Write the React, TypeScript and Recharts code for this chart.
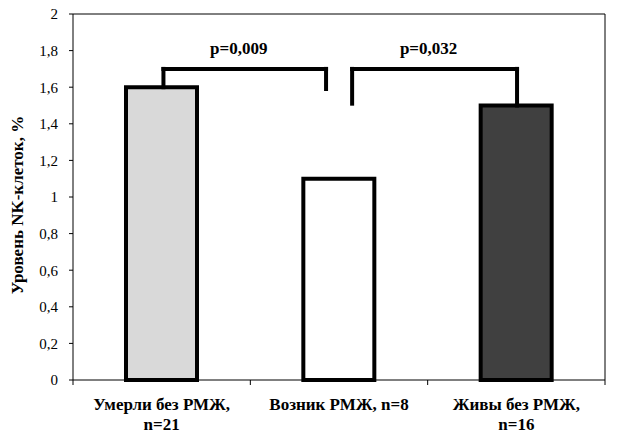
import { Bar, BarChart, Cell, ReferenceLine, Text, XAxis, YAxis } from "recharts";

const categories = ["Умерли без РМЖ, n=21", "Возник РМЖ, n=8", "Живы без РМЖ, n=16"];
const positions = [0.5, 1.5, 2.5];
const values = [1.6, 1.1, 1.5];
const fills = ["#d9d9d9", "#ffffff", "#404040"];
const yTicks = [0, 0.2, 0.4, 0.6, 0.8, 1, 1.2, 1.4, 1.6, 1.8, 2];
const xTicks = [0, 0.5, 1, 1.5, 2, 2.5, 3];

// significance brackets: x in category units (0..3), y in axis units
const bracketLabels = ["p=0,009", "p=0,032"];
const bracketStartX = [0.51, 1.574];
const bracketEndX = [1.427, 2.504];
const bracketStartY = [1.6, 1.51];
const bracketEndY = [1.59, 1.5];
const bracketTop = [1.7, 1.7];

const data = categories.map((name, i) => ({ name, pos: positions[i], value: values[i] }));

const font = "'Times New Roman', 'Liberation Serif', 'DejaVu Serif', serif";

function CategoryTick(props: any) {
  const { x, y, payload } = props;
  const v = payload.value;
  if (Number.isInteger(v)) {
    return <line x1={x} x2={x} y1={y} y2={y + 5} stroke="#000" />;
  }
  const idx = positions.indexOf(v);
  return (
    <Text
      x={x}
      y={y + 18}
      width={155}
      textAnchor="middle"
      verticalAnchor="start"
      lineHeight={20}
      style={{ fontFamily: font, fontWeight: "bold", fontSize: 17 }}
      fill="#000"
    >
      {categories[idx]}
    </Text>
  );
}

export default function App() {
  const line = { stroke: "#000", strokeWidth: 4 };
  return (
    <div style={{ width: 619, height: 447, fontFamily: font }}>
      <style>{`body{margin:0}`}</style>
      <BarChart
        width={619}
        height={447}
        data={data}
        margin={{ top: 14, right: 14, left: 0, bottom: 0 }}
      >
        <XAxis
          dataKey="pos"
          type="number"
          domain={[0, 3]}
          ticks={xTicks}
          interval={0}
          height={67}
          axisLine={{ stroke: "#000" }}
          tickLine={false}
          tickSize={0}
          tickMargin={0}
          tick={<CategoryTick />}
        />
        <YAxis
          width={73}
          domain={[0, 2]}
          ticks={yTicks}
          tickFormatter={(v) => String(v).replace(".", ",")}
          tickSize={4}
          tickMargin={11}
          axisLine={{ stroke: "#000" }}
          tickLine={{ stroke: "#000" }}
          tick={{ fill: "#000", style: { fontFamily: font, fontSize: 15 } }}
          label={{
            value: "Уровень NK-клеток, %",
            angle: -90,
            position: "insideLeft",
            dx: 12,
            dy: 8,
            style: { fontFamily: font, fontWeight: "bold", fontSize: 17, fill: "#000", textAnchor: "middle" },
          }}
        />
        <ReferenceLine y={2} stroke="#000" strokeWidth={1} />
        <ReferenceLine x={3} stroke="#000" strokeWidth={1} />
        <Bar dataKey="value" barSize={71} stroke="#000" strokeWidth={4} isAnimationActive={false}>
          {data.map((_, i) => (
            <Cell key={i} fill={fills[i]} />
          ))}
        </Bar>
        {bracketLabels.map((label, i) => [
          <ReferenceLine
            key={`a${i}`}
            segment={[
              { x: bracketStartX[i], y: bracketStartY[i] },
              { x: bracketStartX[i], y: bracketTop[i] },
            ]}
            strokeLinecap="square"
            {...line}
          />,
          <ReferenceLine
            key={`b${i}`}
            segment={[
              { x: bracketStartX[i], y: bracketTop[i] },
              { x: bracketEndX[i], y: bracketTop[i] },
            ]}
            strokeLinecap="square"
            {...line}
            label={{
              value: label,
              position: "top",
              offset: 15,
              dx: -6,
              style: { fontFamily: font, fontWeight: "bold", fontSize: 17, fill: "#000" },
            }}
          />,
          <ReferenceLine
            key={`c${i}`}
            segment={[
              { x: bracketEndX[i], y: bracketTop[i] },
              { x: bracketEndX[i], y: bracketEndY[i] },
            ]}
            strokeLinecap="square"
            {...line}
          />,
        ])}
      </BarChart>
    </div>
  );
}
